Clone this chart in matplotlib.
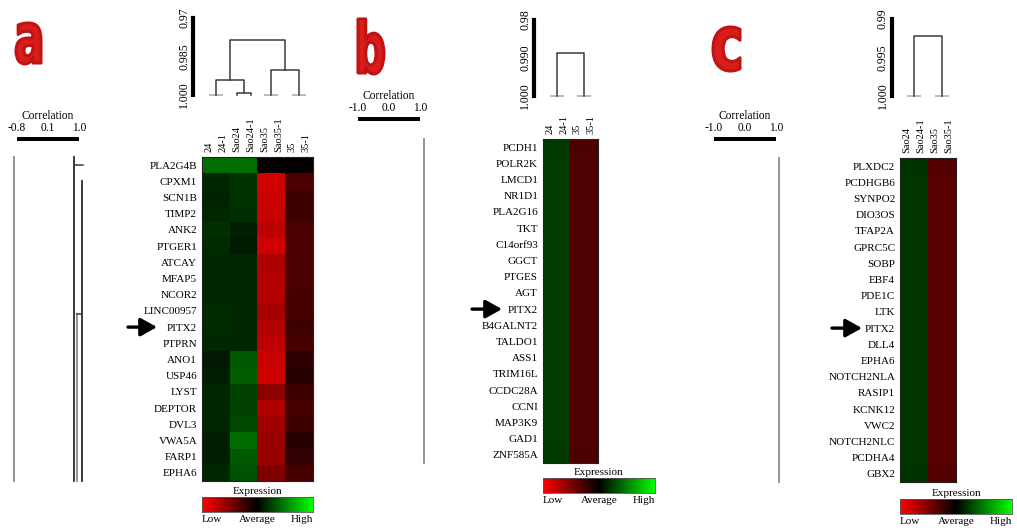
import numpy as np
import matplotlib
matplotlib.use('Agg')
import matplotlib.pyplot as plt
from matplotlib.colors import LinearSegmentedColormap
from matplotlib.font_manager import FontProperties
from matplotlib.patches import PathPatch
from matplotlib.textpath import TextPath
from matplotlib.transforms import Affine2D, blended_transform_factory

W, H = 1017, 532
SERIF = 'Liberation Serif'

# ---------------- panel a ----------------
a_samples = ['24', '24-1', 'Sao24', 'Sao24-1', 'Sao35', 'Sao35-1', '35', '35-1']
a_genes = ['PLA2G4B', 'CPXM1', 'SCN1B', 'TIMP2', 'ANK2', 'PTGER1', 'ATCAY', 'MFAP5',
           'NCOR2', 'LINC00957', 'PITX2', 'PTPRN', 'ANO1', 'USP46', 'LYST', 'DEPTOR',
           'DVL3', 'VWA5A', 'FARP1', 'EPHA6']
# expression per replicate pair (red = low, green = high)
a_24 = [0.43, 0.15, 0.14, 0.15, 0.18, 0.17, 0.16, 0.16, 0.16, 0.17,
        0.17, 0.16, 0.10, 0.12, 0.16, 0.15, 0.15, 0.12, 0.12, 0.15]
a_sao24 = [0.43, 0.20, 0.20, 0.18, 0.12, 0.10, 0.15, 0.15, 0.15, 0.16,
           0.15, 0.15, 0.35, 0.36, 0.25, 0.25, 0.28, 0.42, 0.35, 0.32]
a_sao35 = [-0.02, -0.82, -0.80, -0.78, -0.74, -0.82, -0.68, -0.70, -0.70, -0.65,
           -0.70, -0.75, -0.78, -0.80, -0.55, -0.68, -0.62, -0.60, -0.60, -0.50]
a_35 = [-0.02, -0.30, -0.25, -0.25, -0.30, -0.30, -0.30, -0.30, -0.28, -0.28,
        -0.25, -0.28, -0.18, -0.15, -0.25, -0.28, -0.25, -0.15, -0.20, -0.28]
# column clustering: (node, node, correlation at merge); new nodes numbered after leaves
a_col_links = [(0, 1, 1.0), (2, 3, 0.9992), (4, 5, 1.0), (6, 7, 1.0),
               (8, 9, 0.9942), (10, 11, 0.9903), (12, 13, 0.9786)]
a_scale = [1.000, 0.985, 0.97]
a_scale_labels = ['1.000', '0.985', '0.97']
a_corr_ticks = [-0.8, 0.1, 1.0]
# row clustering: vertical joins (correlation, first row, last row) and branches (row, corr, corr)
a_row_joins = [(0.86, -0.5, 19.5), (1.09, 1.0, 19.5)]
a_row_ties = [(-0.89, -0.5, 19.5), (0.94, 9.2, 19.5)]
a_row_branches = [(0.0, 0.86, 1.12), (9.2, 0.94, 1.09)]

# ---------------- panel b ----------------
b_samples = ['24', '24-1', '35', '35-1']
b_genes = ['PCDH1', 'POLR2K', 'LMCD1', 'NR1D1', 'PLA2G16', 'TKT', 'C14orf93', 'GGCT',
           'PTGES', 'AGT', 'PITX2', 'B4GALNT2', 'TALDO1', 'ASS1', 'TRIM16L', 'CCDC28A',
           'CCNI', 'MAP3K9', 'GAD1', 'ZNF585A']
b_24 = [0.22, 0.23, 0.23, 0.23, 0.23, 0.23, 0.23, 0.23, 0.23, 0.23,
        0.23, 0.23, 0.23, 0.23, 0.23, 0.23, 0.23, 0.23, 0.23, 0.22]
b_35 = [-0.30, -0.31, -0.31, -0.31, -0.31, -0.31, -0.31, -0.31, -0.31, -0.31,
        -0.31, -0.31, -0.31, -0.31, -0.31, -0.31, -0.31, -0.31, -0.31, -0.30]
b_col_links = [(0, 1, 1.0), (2, 3, 1.0), (4, 5, 0.9887)]
b_scale = [1.000, 0.990, 0.98]
b_scale_labels = ['1.000', '0.990', '0.98']
b_corr_ticks = [-1.0, 0.0, 1.0]
b_row_joins = []
b_row_ties = [(1.13, -0.5, 19.5)]
b_row_branches = []

# ---------------- panel c ----------------
c_samples = ['Sao24', 'Sao24-1', 'Sao35', 'Sao35-1']
c_genes = ['PLXDC2', 'PCDHGB6', 'SYNPO2', 'DIO3OS', 'TFAP2A', 'GPRC5C', 'SOBP', 'EBF4',
           'PDE1C', 'LTK', 'PITX2', 'DLL4', 'EPHA6', 'NOTCH2NLA', 'RASIP1', 'KCNK12',
           'VWC2', 'NOTCH2NLC', 'PCDHA4', 'GBX2']
c_sao24 = [0.20, 0.21, 0.21, 0.21, 0.21, 0.21, 0.21, 0.21, 0.21, 0.21,
           0.21, 0.21, 0.21, 0.21, 0.21, 0.21, 0.21, 0.21, 0.21, 0.20]
c_sao35 = [-0.33, -0.34, -0.34, -0.34, -0.34, -0.34, -0.34, -0.34, -0.34, -0.34,
           -0.34, -0.34, -0.34, -0.34, -0.34, -0.34, -0.34, -0.34, -0.34, -0.33]
c_col_links = [(0, 1, 1.0), (2, 3, 1.0), (4, 5, 0.9922)]
c_scale = [1.000, 0.995, 0.99]
c_scale_labels = ['1.000', '0.995', '0.99']
c_corr_ticks = [-1.0, 0.0, 1.0]
c_row_joins = []
c_row_ties = [(1.10, -0.5, 19.5)]
c_row_branches = []

cmap = LinearSegmentedColormap.from_list('red_black_green', [(1, 0, 0), (0, 0, 0), (0, 1, 0)])

fig = plt.figure(figsize=(W / 100, H / 100), dpi=100)
ov = fig.add_axes([0, 0, 1, 1])
ov.set_xlim(0, W)
ov.set_ylim(H, 0)
ov.axis('off')


def px_axes(x0, y0, x1, y1):
    return fig.add_axes([x0 / W, 1 - y1 / H, (x1 - x0) / W, (y1 - y0) / H])


def panel_letter(ch, box):
    x0, y0, x1, y1 = box
    tp = TextPath((0, 0), ch, size=10, prop=FontProperties(family='DejaVu Sans', weight='bold'))
    bb = tp.get_extents()
    tr = (Affine2D().translate(-bb.x0, -bb.y0)
          .scale((x1 - x0) / bb.width, -(y1 - y0) / bb.height)
          .translate(x0, y1))
    ov.add_patch(PathPatch(tr.transform_path(tp), facecolor='#d91c1c', edgecolor='#c01414',
                           lw=2.2, joinstyle='round'))


def heatmap(box, genes, samples, values):
    ax = px_axes(*box)
    ax.imshow(values, cmap=cmap, vmin=-1, vmax=1, aspect='auto', interpolation='nearest')
    ax.set_yticks(range(len(genes)))
    ax.set_yticklabels(genes, fontsize=8, family=SERIF)
    ax.set_xticks(range(len(samples)))
    ax.set_xticklabels(samples, rotation=90, fontsize=7.5, family=SERIF)
    ax.xaxis.tick_top()
    ax.tick_params(length=0, pad=3.5)
    for s in ax.spines.values():
        s.set_linewidth(0.8)
        s.set_color('#222222')
    return ax


def col_tree(box, n, links, scale, labels, gap):
    ax = px_axes(*box)
    ax.set_xlim(-0.5, n - 0.5)
    ax.set_ylim(scale[0], scale[-1])
    pos = {i: (float(i), 1.0) for i in range(n)}
    for k, (i, j, h) in enumerate(links):
        xi, hi = pos[i]
        xj, hj = pos[j]
        if h >= 1.0:
            ax.plot([xi, xj], [h, h], color='#b5b5b5', lw=1.3, solid_capstyle='butt', clip_on=False)
        else:
            ax.plot([xi, xi, xj, xj], [hi, h, h, hj], color='#3a3a3a', lw=1.1, clip_on=False)
        pos[n + k] = ((xi + xj) / 2, h)
    for s in ['top', 'right', 'bottom']:
        ax.spines[s].set_visible(False)
    ax.spines['left'].set_position(('outward', gap))
    ax.spines['left'].set_linewidth(3)
    ax.set_yticks(scale)
    ax.set_yticklabels(labels, rotation=90, va='center', fontsize=8.5, family=SERIF)
    ax.tick_params(axis='y', length=0, pad=2)
    ax.set_xticks([])
    ax.patch.set_visible(False)


def corr_key(x0, x1, y, ticks):
    ax = px_axes(x0, y - 2, x1, y + 2)
    ax.set_facecolor('black')
    ax.set_xlim(ticks[0], ticks[-1])
    ax.set_xticks(ticks)
    ax.set_xticklabels([f'{t:.1f}' for t in ticks], fontsize=8.3, family=SERIF)
    ax.xaxis.tick_top()
    ax.tick_params(length=0, pad=2.5)
    ax.set_yticks([])
    for s in ax.spines.values():
        s.set_visible(False)
    ax.set_title('Correlation', fontsize=8.3, family=SERIF, pad=1.5)
    return ax


def row_tree(x0, x1, y0, y1, ticks, n, joins, ties, branches):
    ax = px_axes(x0, y0, x1, y1)
    ax.set_xlim(ticks[0], ticks[-1])
    ax.set_ylim(n - 0.5, -0.5)
    for lev, r0, r1 in ties:
        ax.plot([lev, lev], [r0, r1], color='#8a8a8a', lw=1.3, clip_on=False)
    for lev, r0, r1 in joins:
        ax.plot([lev, lev], [r0, r1], color='#2a2a2a', lw=1.3, clip_on=False)
    for r, l0, l1 in branches:
        ax.plot([l0, l1], [r, r], color='#3a3a3a', lw=1.1, clip_on=False)
    ax.axis('off')


def expr_bar(box):
    ax = px_axes(*box)
    ax.imshow(np.linspace(-1, 1, 256)[None, :], cmap=cmap, vmin=-1, vmax=1,
              aspect='auto', extent=(-1, 1, 0, 1))
    ax.set_xticks([])
    ax.set_yticks([])
    for s in ax.spines.values():
        s.set_linewidth(0.6)
        s.set_color('#555555')
    ax.set_title('Expression', fontsize=8, family=SERIF, pad=2)
    for xf, txt, ha in [(0, 'Low', 'left'), (0.5, 'Average', 'center'), (1, 'High', 'right')]:
        ax.annotate(txt, xy=(xf, 0), xycoords='axes fraction', xytext=(0, -2.5),
                    textcoords='offset points', ha=ha, va='top', fontsize=8, family=SERIF)


def pitx2_arrow(ax, genes, x_tail, x_head):
    row = genes.index('PITX2')
    tr = blended_transform_factory(ov.transData, ax.transData)
    ov.annotate('', xy=(x_head, row), xycoords=tr, xytext=(x_tail, row), textcoords=tr,
                arrowprops=dict(arrowstyle='-|>,head_length=0.9,head_width=0.5',
                                color='black', lw=2.4, shrinkA=0, shrinkB=0, mutation_scale=11))


def panel(letter, letter_box, samples, genes, values, links, scale, labels, corr_ticks,
          joins, ties, branches, hm_box, tree_top, tree_gap, key_x, key_y, bar_box, arrow_x):
    panel_letter(letter, letter_box)
    ax = heatmap(hm_box, genes, samples, values)
    col_tree((hm_box[0], tree_top[0], hm_box[2], tree_top[1]), len(samples), links, scale, labels, tree_gap)
    corr_key(key_x[0], key_x[1], key_y, corr_ticks)
    row_tree(key_x[0], key_x[1], hm_box[1], hm_box[3], corr_ticks, len(genes), joins, ties, branches)
    expr_bar(bar_box)
    pitx2_arrow(ax, genes, *arrow_x)


a_values = np.repeat(np.column_stack([a_24, a_sao24, a_sao35, a_35]), 2, axis=1)
b_values = np.repeat(np.column_stack([b_24, b_35]), 2, axis=1)
c_values = np.repeat(np.column_stack([c_sao24, c_sao35]), 2, axis=1)

panel('a', (16, 23, 41, 64), a_samples, a_genes, a_values, a_col_links, a_scale, a_scale_labels,
      a_corr_ticks, a_row_joins, a_row_ties, a_row_branches,
      (202, 157, 313, 481), (18, 95), 6.5, (17, 79), 139, (202, 497, 313, 512), (128, 157))
panel('b', (358, 19, 384, 74), b_samples, b_genes, b_values, b_col_links, b_scale, b_scale_labels,
      b_corr_ticks, b_row_joins, b_row_ties, b_row_branches,
      (543, 139, 598, 463), (20, 96), 6.5, (358, 420), 119, (543, 478, 655, 493), (472, 502))
panel('c', (713, 27, 740, 71), c_samples, c_genes, c_values, c_col_links, c_scale, c_scale_labels,
      c_corr_ticks, c_row_joins, c_row_ties, c_row_branches,
      (900, 158, 956, 482), (19, 96), 6, (714, 776), 139, (900, 499, 1012, 514), (832, 862))

fig.savefig('out.png', dpi=100)
